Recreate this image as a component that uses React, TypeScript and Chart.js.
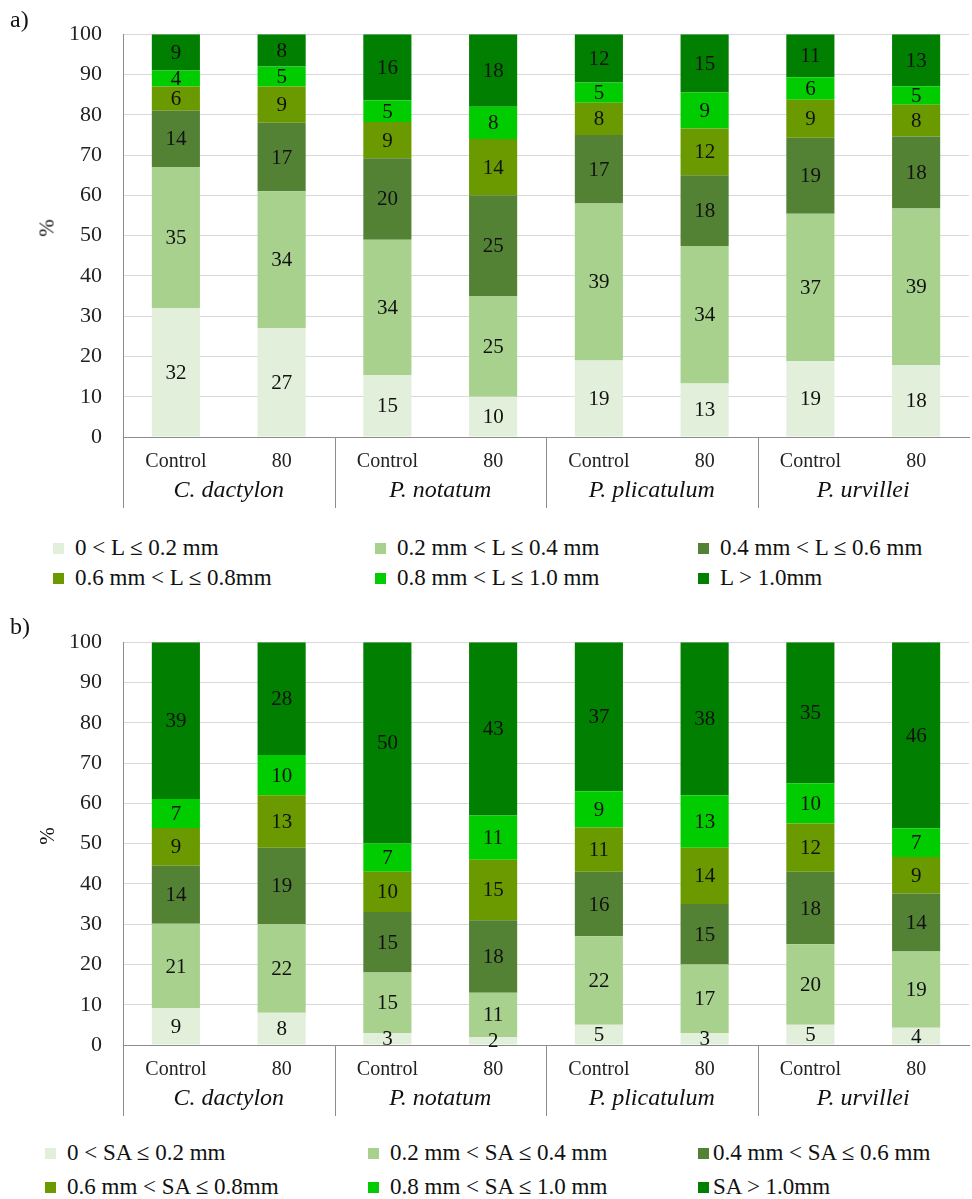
import React, { useEffect, useRef } from "react";
import { Chart, registerables } from "chart.js";

Chart.register(...registerables);

const categories = ["Control", "80", "Control", "80", "Control", "80", "Control", "80"];
const groups = ["C. dactylon", "P. notatum", "P. plicatulum", "P. urvillei"];

// Panel a – root length classes (bottom to top)
const lenA_0_02 = [32, 27, 15.4, 10, 19, 13.3, 18.8, 17.9];
const lenA_02_04 = [35, 34, 33.6, 25, 39, 34.1, 36.6, 38.8];
const lenA_04_06 = [14, 17, 20.2, 25, 17, 17.6, 18.9, 17.9];
const lenA_06_08 = [6, 9, 9.0, 14, 8, 11.6, 9.4, 7.9];
const lenA_08_10 = [4, 5, 5.4, 8, 5, 8.9, 5.6, 4.6];
const lenA_gt10 = [9, 8, 16.4, 18, 12, 14.5, 10.7, 12.9];

// Panel b – surface area classes (bottom to top)
const saB_0_02 = [9.1, 8, 3, 2, 5, 3, 5, 4.3];
const saB_02_04 = [21, 22, 15, 11, 22, 17, 20, 18.9];
const saB_04_06 = [14.4, 19, 15, 18, 16, 15, 18, 14.4];
const saB_06_08 = [9.4, 13, 10, 15, 11, 14, 12, 9.1];
const saB_08_10 = [7.2, 10, 7, 11, 9, 13, 10, 7.1];
const saB_gt10 = [38.9, 28, 50, 43, 37, 38, 35, 46.2];

const legendA = [
  "0 < L ≤ 0.2 mm",
  "0.2 mm < L ≤ 0.4 mm",
  "0.4 mm < L ≤ 0.6 mm",
  "0.6 mm < L ≤ 0.8mm",
  "0.8 mm < L ≤ 1.0 mm",
  "L > 1.0mm",
];
const legendB = [
  "0 < SA ≤ 0.2 mm",
  "0.2 mm < SA ≤ 0.4 mm",
  "0.4 mm < SA ≤ 0.6 mm",
  "0.6 mm < SA ≤ 0.8mm",
  "0.8 mm < SA ≤ 1.0 mm",
  "SA > 1.0mm",
];

const colors = ["#E2EFDA", "#A9D18E", "#548235", "#6A9A00", "#00CC00", "#007F00"];

const FONT = '"Liberation Serif", "Times New Roman", Times, "DejaVu Serif", serif';

const seriesA = [lenA_0_02, lenA_02_04, lenA_04_06, lenA_06_08, lenA_08_10, lenA_gt10];
const seriesB = [saB_0_02, saB_02_04, saB_04_06, saB_06_08, saB_08_10, saB_gt10];

const labelsPlugin = {
  id: "customLabels",
  afterDatasetsDraw(chart: any) {
    const ctx = chart.ctx;
    ctx.save();
    ctx.textAlign = "center";
    ctx.textBaseline = "middle";
    ctx.font = `21px ${FONT}`;
    ctx.fillStyle = "#111";
    chart.data.datasets.forEach((ds: any, di: number) => {
      const meta = chart.getDatasetMeta(di);
      meta.data.forEach((el: any, i: number) => {
        const v = ds.data[i];
        const p = el.getProps(["x", "y", "base"], true);
        ctx.fillText(String(Math.round(v)), p.x, (p.y + p.base) / 2 + 1);
      });
    });
    const xs = chart.scales.x;
    const bottom = chart.chartArea.bottom;
    const catW = (xs.right - xs.left) / categories.length;
    ctx.font = `20px ${FONT}`;
    ctx.fillStyle = "#222";
    categories.forEach((c, i) => {
      ctx.fillText(c, xs.getPixelForValue(i), bottom + 25);
    });
    ctx.strokeStyle = "#8c8c8c";
    ctx.lineWidth = 1;
    for (let g = 0; g < groups.length; g++) {
      const x = Math.round(xs.left + g * 2 * catW) + 0.5;
      ctx.beginPath();
      ctx.moveTo(x, bottom);
      ctx.lineTo(x, bottom + 71);
      ctx.stroke();
    }
    ctx.font = `italic 24px ${FONT}`;
    ctx.fillStyle = "#111";
    groups.forEach((g, i) => {
      ctx.fillText(g, xs.left + (i * 2 + 1) * catW, bottom + 54);
    });
    ctx.restore();
  },
};

function StackChart({ series }: { series: number[][] }) {
  const ref = useRef<HTMLCanvasElement>(null);
  useEffect(() => {
    if (!ref.current) return;
    const chart = new Chart(ref.current, {
      type: "bar",
      data: {
        labels: categories,
        datasets: series.map((d, i) => ({
          data: d,
          backgroundColor: colors[i],
          borderWidth: 0,
          barPercentage: 0.455,
          categoryPercentage: 1,
        })),
      },
      options: {
        animation: false,
        responsive: false,
        maintainAspectRatio: false,
        events: [],
        layout: { padding: { left: 0, right: 3, top: 19, bottom: 0 } },
        plugins: { legend: { display: false }, tooltip: { enabled: false } },
        scales: {
          x: {
            stacked: true,
            grid: { display: true, color: "rgba(0,0,0,0)", drawTicks: false },
            border: { display: true, color: "#8c8c8c", width: 1 },
            ticks: { display: false },
            afterFit: (s: any) => {
              s.height = 83;
            },
          },
          y: {
            stacked: true,
            min: 0,
            max: 100,
            grid: { color: "#d9d9d9", drawTicks: false },
            border: { display: true, color: "#8c8c8c", width: 1 },
            ticks: {
              stepSize: 10,
              padding: 21,
              color: "#222",
              font: { family: FONT, size: 22 },
            },
            afterFit: (s: any) => {
              s.width = 123;
            },
          },
        },
      } as any,
      plugins: [labelsPlugin],
    });
    return () => chart.destroy();
  }, [series]);
  return <canvas ref={ref} width={972} height={520} style={{ width: 972, height: 520, display: "block" }} />;
}

function Legend({ labels, top, cols }: { labels: string[]; top: number[]; cols: { sq: number; tx: number }[] }) {
  return (
    <>
      {labels.map((l, i) => {
        const row = Math.floor(i / 3);
        const col = i % 3;
        const y = top[row];
        return (
          <React.Fragment key={i}>
            <div
              style={{
                position: "absolute",
                left: cols[col].sq,
                top: y - 5,
                width: 11,
                height: 11,
                background: colors[i],
              }}
            />
            <div
              style={{
                position: "absolute",
                left: cols[col].tx,
                top: y - 14,
                height: 28,
                lineHeight: "28px",
                fontFamily: FONT,
                fontSize: 23,
                color: "#111",
                whiteSpace: "nowrap",
              }}
            >
              {l}
            </div>
          </React.Fragment>
        );
      })}
    </>
  );
}

export default function App() {
  const textStyle: React.CSSProperties = { position: "absolute", fontFamily: FONT, color: "#111" };
  return (
    <div style={{ position: "absolute", left: 0, top: 0, width: 972, height: 1199, background: "#fff", overflow: "hidden", fontFamily: FONT }}>
      <div style={{ position: "absolute", left: 0, top: 0 }}>
        <StackChart series={seriesA} />
      </div>
      <div style={{ position: "absolute", left: 0, top: 608 }}>
        <StackChart series={seriesB} />
      </div>
      <div style={{ ...textStyle, left: 10, top: 5, fontSize: 24, lineHeight: "28px" }}>a)</div>
      <div style={{ ...textStyle, left: 10, top: 612, fontSize: 24, lineHeight: "28px" }}>b)</div>
      <div
        style={{
          ...textStyle,
          left: 47,
          top: 228,
          fontSize: 21,
          lineHeight: "21px",
          transform: "translate(-50%, -50%) rotate(-90deg)",
        }}
      >
        %
      </div>
      <div
        style={{
          ...textStyle,
          left: 47,
          top: 836,
          fontSize: 21,
          lineHeight: "21px",
          transform: "translate(-50%, -50%) rotate(-90deg)",
        }}
      >
        %
      </div>
      <Legend
        labels={legendA}
        top={[548, 578]}
        cols={[
          { sq: 53, tx: 75 },
          { sq: 375, tx: 397 },
          { sq: 698, tx: 720 },
        ]}
      />
      <Legend
        labels={legendB}
        top={[1153, 1187]}
        cols={[
          { sq: 45, tx: 67 },
          { sq: 368, tx: 390 },
          { sq: 698, tx: 713 },
        ]}
      />
    </div>
  );
}
